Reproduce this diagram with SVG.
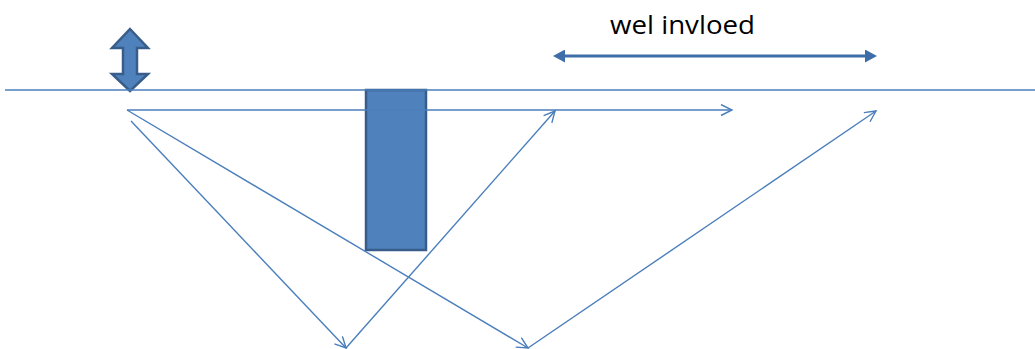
<svg xmlns="http://www.w3.org/2000/svg" width="1035" height="349" viewBox="0 0 1035 349">
  <style>
    .ray { stroke: #4a7ebb; stroke-width: 1.4; fill: none; }
    .shape { fill: #4f81bd; stroke: #385d8a; stroke-width: 2.5; }
    .label { font-family: "Open Sans", "Liberation Sans", Arial, sans-serif; font-size: 25px; fill: #000; }
  </style>
  <defs>
    <marker id="open" markerUnits="userSpaceOnUse" markerWidth="14" markerHeight="14" refX="12" refY="6" orient="auto">
      <path d="M1,0.5 L12,6 L1,11.5" fill="none" stroke="#4a7ebb" stroke-width="1.4"/>
    </marker>
    <marker id="solidEnd" markerUnits="userSpaceOnUse" markerWidth="14" markerHeight="14" refX="5" refY="6.5" orient="auto">
      <path d="M0,0 L12,6.5 L0,13 Z" fill="#3e6ea8"/>
    </marker>
    <marker id="solidStart" markerUnits="userSpaceOnUse" markerWidth="14" markerHeight="14" refX="7" refY="6.5" orient="auto">
      <path d="M12,0 L0,6.5 L12,13 Z" fill="#3e6ea8"/>
    </marker>
  </defs>

  <g id="barrier">
    <rect class="shape" x="366" y="90" width="60" height="160"/>
  </g>

  <g id="source-arrow">
    <path class="shape" stroke-width="2" d="M130,29 L148,48 L137,48 L137,74 L148,74 L130,91 L112,74 L123,74 L123,48 L112,48 Z"/>
  </g>

  <g id="label">
    <text class="label" x="610" y="34" textLength="145" lengthAdjust="spacingAndGlyphs">wel invloed</text>
  </g>

  <g id="connectors">
    <line x1="5" y1="90" x2="1035" y2="90" class="ray"/>
    <line x1="127" y1="110" x2="732" y2="110" class="ray" marker-end="url(#open)"/>
    <line x1="127" y1="110" x2="528" y2="348" class="ray" marker-end="url(#open)"/>
    <line x1="131" y1="121" x2="346" y2="348" class="ray" marker-end="url(#open)"/>
    <line x1="346" y1="348" x2="555" y2="111" class="ray" marker-end="url(#open)"/>
    <line x1="528" y1="348" x2="876" y2="111" class="ray" marker-end="url(#open)"/>
    <line x1="560" y1="56" x2="870" y2="56" stroke="#3e6ea8" stroke-width="3" marker-start="url(#solidStart)" marker-end="url(#solidEnd)"/>
  </g>
</svg>
